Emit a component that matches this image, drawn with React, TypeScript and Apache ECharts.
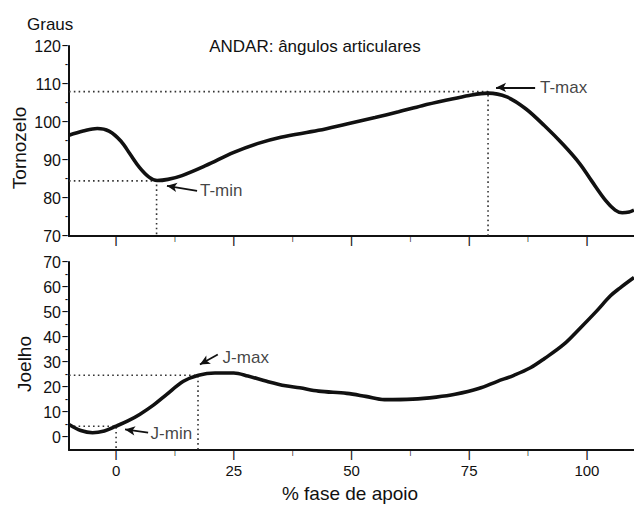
import React, { useEffect, useRef } from "react";
import * as echarts from "echarts";

// ---- Data ----
const anklePhase = [-10, -7, -4, -1.5, 1, 3, 5, 7, 8.7, 11, 14, 19, 25, 30, 35, 43, 49, 55, 60, 65, 70, 75, 79, 83, 87, 91, 95, 98.5, 101, 104, 106, 107.5, 109, 110];
const ankleAngle = [96.5, 97.6, 98.3, 97.6, 95, 91.5, 88, 85.5, 84.6, 84.9, 85.9, 88.5, 92, 94.3, 96, 97.8, 99.5, 101.2, 102.7, 104.3, 105.7, 107, 107.6, 106.6, 103.5, 99, 94, 89, 84.5, 79.3, 76.8, 76.1, 76.3, 76.8];

const kneePhase = [-10, -7.5, -5, -2.5, 0, 2.5, 5, 8, 10.7, 14.3, 17.5, 21, 25, 28, 32, 36, 39, 43, 49, 53, 57, 63, 68, 72, 77, 81, 84.5, 88, 91, 95, 98.5, 102, 105, 107, 110];
const kneeAngle = [5.2, 2.8, 1.9, 2.6, 4.5, 6.6, 9.2, 13, 17.1, 22.4, 24.8, 25.7, 25.7, 24.5, 22.4, 20.6, 19.8, 18.5, 17.6, 16.4, 15.1, 15.3, 16.1, 17.2, 19.5, 22.4, 24.8, 27.8, 31.5, 37, 43.5, 50.3, 56.5, 59.6, 63.8];

const xMajorTicks = [0, 25, 50, 75, 100];
const xMinorTicks = [12.5, 37.5, 62.5, 87.5];
const ankleMajorTicks = [70, 80, 90, 100, 110, 120];
const ankleMinorTicks = [75, 85, 95, 105, 115];
const kneeMajorTicks = [0, 10, 20, 30, 40, 50, 60, 70];
const kneeMinorTicks = [5, 15, 25, 35, 45, 55, 65];

// Axis ranges
const xRange = [-10, 110];
const ankleRange = [70, 120];
const kneeRange = [-5, 70];

// Reference points: [phase, angle]
const tMax = [79, 108];
const tMin = [8.6, 84.5];
const jMax = [17.4, 24.8];
const jMin = [0, 4.5];

// Annotation arrows: [tailX, tailY, headX, headY]
const tMaxArrow = [89, 109.1, 80.7, 109.1];
const tMinArrow = [17.2, 81.9, 10.8, 83.2];
const jMaxArrow = [21.6, 33.1, 17.8, 29.1];
const jMinArrow = [6.8, 1.9, 1.9, 3.2];

// Annotation label anchors: [x, y, text]
const topLabels: [number, number, string][] = [
  [89.6, 109.1, "T-max"],
  [17.4, 81.9, "T-min"],
];
const bottomLabels: [number, number, string][] = [
  [22.2, 32.0, "J-max"],
  [6.9, 1.7, "J-min"],
];

const FONT = "'Liberation Sans', Arial, sans-serif";
const INK = "#111";

function zip(xs: number[], ys: number[]) {
  return xs.map((x, i) => [x, ys[i]]);
}

export default function App() {
  const ref = useRef<HTMLDivElement>(null);
  useEffect(() => {
    if (!ref.current) return;
    const chart = echarts.init(ref.current, undefined, { renderer: "svg" });

    const baseX = {
      type: "value",
      min: xRange[0],
      max: xRange[1],
      splitLine: { show: false },
      axisLine: { show: true, onZero: false, lineStyle: { color: INK, width: 2 } },
      axisTick: { show: false },
    };
    const dotted = { color: "#333", width: 1.6, type: [1.6, 3.2] };
    const refLine = (xi: number, p: number[], yFloor: number) => ({
      type: "line",
      xAxisIndex: xi,
      yAxisIndex: xi,
      data: [[xRange[0], p[1]], [p[0], p[1]], [p[0], yFloor]],
      showSymbol: false,
      symbol: "none",
      lineStyle: dotted,
      silent: true,
      z: 1,
    });
    const arrow = (xi: number, a: number[]) => ({
      type: "line",
      xAxisIndex: xi,
      yAxisIndex: xi,
      data: [],
      markLine: {
        silent: true,
        symbol: ["none", "arrow"],
        symbolSize: [7, 10],
        label: { show: false },
        lineStyle: { color: INK, width: 1.8, type: "solid" },
        data: [[{ coord: [a[0], a[1]] }, { coord: [a[2], a[3]] }]],
      },
    });
    const labels = (xi: number, arr: [number, number, string][]) => ({
      type: "scatter",
      xAxisIndex: xi,
      yAxisIndex: xi,
      symbolSize: 0,
      silent: true,
      data: arr.map((d) => ({ value: [d[0], d[1]], name: d[2] })),
      label: {
        show: true,
        position: "right",
        distance: 2,
        formatter: (p: any) => p.name,
        fontFamily: FONT,
        fontSize: 17,
        color: INK,
      },
    });
    const curve = (xi: number, name: string, xs: number[], ys: number[]) => ({
      type: "line",
      name,
      xAxisIndex: xi,
      yAxisIndex: xi,
      data: zip(xs, ys),
      smooth: 0.35,
      showSymbol: false,
      symbol: "none",
      lineStyle: { color: INK, width: 3.6 },
      z: 3,
    });

    const texts: any[] = [
      { type: "text", x: 27, y: 24, style: { text: "Graus", font: `17px ${FONT}`, fill: INK, textAlign: "left", textVerticalAlign: "middle" } },
      { type: "text", x: 315, y: 46, style: { text: "ANDAR: ângulos articulares", font: `17px ${FONT}`, fill: INK, textAlign: "center", textVerticalAlign: "middle" } },
      { type: "text", x: 19, y: 148, rotation: Math.PI / 2, style: { text: "Tornozelo", font: `19px ${FONT}`, fill: INK, textAlign: "center", textVerticalAlign: "middle" } },
      { type: "text", x: 24, y: 364, rotation: Math.PI / 2, style: { text: "Joelho", font: `19px ${FONT}`, fill: INK, textAlign: "center", textVerticalAlign: "middle" } },
      { type: "text", x: 350, y: 493, style: { text: "% fase de apoio", font: `19px ${FONT}`, fill: INK, textAlign: "center", textVerticalAlign: "middle" } },
    ];

    chart.setOption({
      animation: false,
      grid: [
        { left: 69, top: 46, right: 0, height: 190 },
        { left: 69, top: 262, right: 0, height: 188 },
      ],
      xAxis: [
        { ...baseX, gridIndex: 0, axisLabel: { show: false } },
        {
          ...baseX,
          gridIndex: 1,
          axisLabel: { customValues: xMajorTicks, fontFamily: FONT, fontSize: 15, color: INK, margin: 13 },
        },
      ],
      yAxis: [
        {
          type: "value",
          gridIndex: 0,
          min: ankleRange[0],
          max: ankleRange[1],
          interval: 10,
          splitLine: { show: false },
          axisLine: { show: true, onZero: false, lineStyle: { color: INK, width: 2 } },
          axisTick: { show: false },
          axisLabel: { fontFamily: FONT, fontSize: 16, color: INK, margin: 8 },
        },
        {
          type: "value",
          gridIndex: 1,
          min: kneeRange[0],
          max: kneeRange[1],
          splitLine: { show: false },
          axisLine: { show: true, onZero: false, lineStyle: { color: INK, width: 2 } },
          axisTick: { show: false },
          axisLabel: { customValues: kneeMajorTicks, fontFamily: FONT, fontSize: 16, color: INK, margin: 8 },
        },
      ],
      graphic: texts,
      series: [
        refLine(0, tMax, ankleRange[0]),
        refLine(0, tMin, ankleRange[0]),
        refLine(1, jMax, kneeRange[0]),
        refLine(1, jMin, kneeRange[0]),
        curve(0, "Tornozelo", anklePhase, ankleAngle),
        curve(1, "Joelho", kneePhase, kneeAngle),
        arrow(0, tMaxArrow),
        arrow(0, tMinArrow),
        arrow(1, jMaxArrow),
        arrow(1, jMinArrow),
        labels(0, topLabels),
        labels(1, bottomLabels),
      ],
    });

    // Tick marks, placed through the axes' own scales (drawn as glyphs)
    const ticks: any[] = [];
    const px = (gi: number, v: number[]) =>
      chart.convertToPixel({ xAxisIndex: gi, yAxisIndex: gi }, v) as number[];
    const addX = (gi: number, floor: number, vals: number[], size: number, dy: number) => {
      vals.forEach((v) => {
        const p = px(gi, [v, floor]);
        if (!p) return;
        ticks.push({
          type: "text",
          x: p[0],
          y: p[1] + dy,
          silent: true,
          style: { text: "|", font: `bold ${size}px ${FONT}`, fill: INK, textAlign: "center", textVerticalAlign: "middle" },
        });
      });
    };
    const addY = (gi: number, vals: number[], glyph: string, size: number) => {
      vals.forEach((v) => {
        const p = px(gi, [xRange[0], v]);
        if (!p) return;
        ticks.push({
          type: "text",
          x: p[0] - 1,
          y: p[1] - 1,
          silent: true,
          style: { text: glyph, font: `bold ${size}px ${FONT}`, fill: INK, textAlign: "right", textVerticalAlign: "middle" },
        });
      });
    };
    addX(0, ankleRange[0], xMajorTicks, 9, 5);
    addX(0, ankleRange[0], xMinorTicks, 5, 3);
    addX(1, kneeRange[0], xMajorTicks, 9, 5);
    addX(1, kneeRange[0], xMinorTicks, 5, 3);
    addY(0, ankleMajorTicks, "–", 11);
    addY(0, ankleMinorTicks, "-", 9);
    addY(1, kneeMajorTicks, "–", 11);
    addY(1, kneeMinorTicks, "-", 9);
    chart.setOption({ graphic: [...texts, ...ticks] }, { replaceMerge: ["graphic"] });

    return () => chart.dispose();
  }, []);
  return (
    <div ref={ref} style={{ position: "absolute", left: 0, top: 0, width: 634, height: 510, background: "#fff" }} />
  );
}
